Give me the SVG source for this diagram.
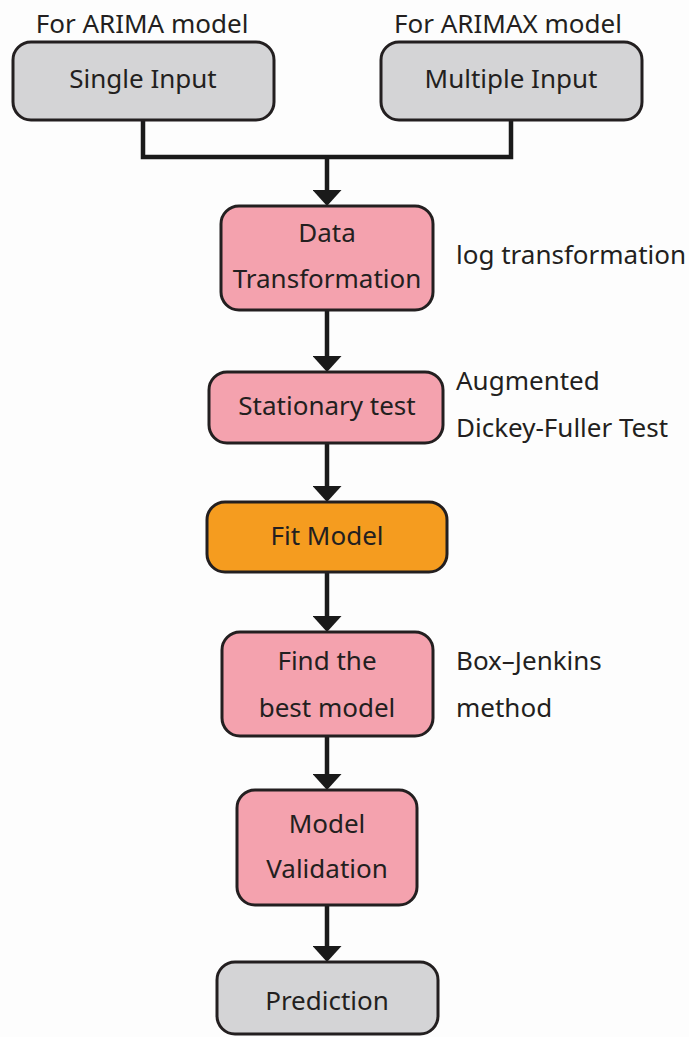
<svg xmlns="http://www.w3.org/2000/svg" width="689" height="1037" viewBox="0 0 689 1037">
  <style>
    .box { stroke: #231f20; stroke-width: 3; }
    .grey { fill: #d4d4d6; }
    .pink { fill: #f4a2ae; }
    .orange { fill: #f59c1f; }
    .lbl { font-family: "Noto Sans", "Open Sans", sans-serif; font-size: 26px; fill: #231f20; }
    .mid { text-anchor: middle; }
    .wire { fill: none; stroke: #1a1a1a; stroke-width: 4.5; }
  </style>
  <defs>
    <marker id="ah" markerUnits="userSpaceOnUse" markerWidth="16" markerHeight="29" viewBox="0 0 16 29" refX="8" refY="14.5" orient="auto">
      <path d="M0,0 L16,14.5 L0,29 Z" fill="#1a1a1a"/>
    </marker>
  </defs>
  <rect width="689" height="1037" fill="#fdfdfd"/>

  <!-- side notes -->
  <g id="notes">
    <text class="lbl mid" x="142" y="33">For ARIMA model</text>
    <text class="lbl mid" x="508" y="33">For ARIMAX model</text>
    <text class="lbl" x="456" y="264">log transformation</text>
    <text class="lbl" x="456" y="390">Augmented</text>
    <text class="lbl" x="456" y="437">Dickey-Fuller Test</text>
    <text class="lbl" x="456" y="670">Box–Jenkins</text>
    <text class="lbl" x="456" y="717">method</text>
  </g>

  <!-- connectors -->
  <g id="connectors">
    <path class="wire" d="M143,120 V157 H511 V120"/>
    <path class="wire" d="M327,157 V198" marker-end="url(#ah)"/>
    <path class="wire" d="M327,310 V364" marker-end="url(#ah)"/>
    <path class="wire" d="M327,443 V494" marker-end="url(#ah)"/>
    <path class="wire" d="M327,572 V624" marker-end="url(#ah)"/>
    <path class="wire" d="M327,736 V782" marker-end="url(#ah)"/>
    <path class="wire" d="M327,905 V954" marker-end="url(#ah)"/>
  </g>

  <g id="single-input">
    <rect class="box grey" x="13" y="42" width="261" height="78" rx="18"/>
    <text class="lbl mid" x="143" y="88">Single Input</text>
  </g>

  <g id="multiple-input">
    <rect class="box grey" x="381" y="42" width="261" height="78" rx="18"/>
    <text class="lbl mid" x="511" y="88">Multiple Input</text>
  </g>

  <g id="data-transformation">
    <rect class="box pink" x="221" y="206" width="212" height="104" rx="18"/>
    <text class="lbl mid" x="327" y="242">Data</text>
    <text class="lbl mid" x="327" y="288">Transformation</text>
  </g>

  <g id="stationary-test">
    <rect class="box pink" x="209" y="372" width="234" height="71" rx="18"/>
    <text class="lbl mid" x="327" y="415">Stationary test</text>
  </g>

  <g id="fit-model">
    <rect class="box orange" x="207" y="502" width="240" height="70" rx="18"/>
    <text class="lbl mid" x="327" y="545">Fit Model</text>
  </g>

  <g id="find-best-model">
    <rect class="box pink" x="222" y="632" width="211" height="104" rx="18"/>
    <text class="lbl mid" x="327" y="670">Find the</text>
    <text class="lbl mid" x="327" y="717">best model</text>
  </g>

  <g id="model-validation">
    <rect class="box pink" x="237" y="790" width="180" height="115" rx="18"/>
    <text class="lbl mid" x="327" y="833">Model</text>
    <text class="lbl mid" x="327" y="878">Validation</text>
  </g>

  <g id="prediction">
    <rect class="box grey" x="217" y="962" width="221" height="72" rx="18"/>
    <text class="lbl mid" x="327" y="1010">Prediction</text>
  </g>
</svg>
